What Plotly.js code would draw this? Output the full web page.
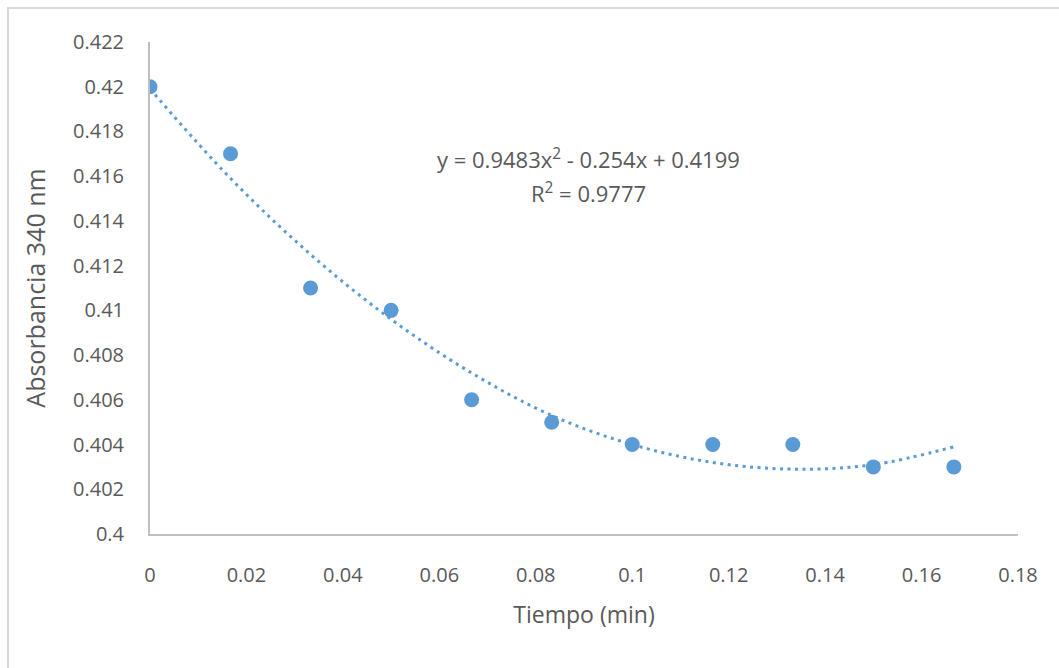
<!DOCTYPE html>
<html>
<head>
<meta charset="utf-8">
<script src="https://cdn.plot.ly/plotly-3.0.1.min.js"></script>
<style>
html,body{margin:0;padding:0;background:#fff;}
#frame{position:absolute;left:7px;top:7px;width:1060px;height:670px;border-left:2px solid #d9d9d9;border-top:2px solid #d9d9d9;box-sizing:border-box;pointer-events:none;z-index:5;}
#chart{position:absolute;left:0;top:0;width:1059px;height:668px;}
</style>
</head>
<body>
<div id="chart"></div>
<div id="frame"></div>
<script>
// Data
var tiempo = [0, 0.0167, 0.0333, 0.05, 0.0667, 0.0833, 0.1, 0.1167, 0.1333, 0.15, 0.1667];
var absorbancia = [0.420, 0.417, 0.411, 0.410, 0.406, 0.405, 0.404, 0.404, 0.404, 0.403, 0.403];
// Dotted trendline values
var trendX = [0, 0.0167, 0.0333, 0.05, 0.0667, 0.0833, 0.1, 0.1167, 0.1333, 0.15, 0.1667];
var trendY = [0.4199, 0.4159, 0.4125, 0.4096, 0.4072, 0.4053, 0.4040, 0.4032, 0.4029, 0.4031, 0.4039];
var xTicks = [0, 0.02, 0.04, 0.06, 0.08, 0.1, 0.12, 0.14, 0.16, 0.18];
var xTickText = ['0', '0.02', '0.04', '0.06', '0.08', '0.1', '0.12', '0.14', '0.16', '0.18'];
var yTicks = [0.4, 0.402, 0.404, 0.406, 0.408, 0.41, 0.412, 0.414, 0.416, 0.418, 0.42, 0.422];
var yTickText = ['0.4', '0.402', '0.404', '0.406', '0.408', '0.41', '0.412', '0.414', '0.416', '0.418', '0.42', '0.422'];
var eqLine1 = 'y = 0.9483x<sup>2</sup> - 0.254x + 0.4199';
var eqLine2 = 'R<sup>2</sup> = 0.9777';

var blue = '#5b9bd5';
var font = 'Open Sans, Lato, sans-serif';
var grey = '#595959';

var traces = [
  {
    x: trendX, y: trendY, type: 'scatter', mode: 'lines',
    line: {color: blue, width: 3, dash: '3px,4.5px', shape: 'spline'},
    hoverinfo: 'skip', showlegend: false
  },
  {
    x: tiempo, y: absorbancia, type: 'scatter', mode: 'markers',
    marker: {color: blue, size: 15},
    showlegend: false
  }
];

var layout = {
  width: 1059, height: 668,
  margin: {l: 150, r: 41, t: 42, b: 134},
  paper_bgcolor: '#ffffff', plot_bgcolor: '#ffffff',
  showlegend: false,
  font: {family: font, color: grey, size: 20},
  xaxis: {
    range: [0, 0.18], tickvals: xTicks, ticktext: xTickText,
    showgrid: false, zeroline: false, showline: true,
    linecolor: '#bfbfbf', linewidth: 2, ticks: '',
    ticklabelstandoff: 22,
    tickfont: {family: font, size: 20, color: grey},
    title: {text: 'Tiempo (min)', font: {family: font, size: 23, color: grey}, standoff: 20}
  },
  yaxis: {
    range: [0.4, 0.422], tickvals: yTicks, ticktext: yTickText,
    showgrid: false, zeroline: false, showline: true,
    linecolor: '#bfbfbf', linewidth: 2, ticks: '',
    ticklabelstandoff: 20,
    tickfont: {family: font, size: 20, color: grey},
    title: {text: 'Absorbancia 340 nm', font: {family: font, size: 25, color: grey}, standoff: 20}
  },
  annotations: [
    {xref: 'paper', yref: 'paper', x: 0.505, y: 0.763, xanchor: 'center', yanchor: 'middle',
     text: eqLine1, showarrow: false, font: {family: font, size: 22, color: grey}},
    {xref: 'paper', yref: 'paper', x: 0.505, y: 0.694, xanchor: 'center', yanchor: 'middle',
     text: eqLine2, showarrow: false, font: {family: font, size: 22, color: grey}}
  ]
};

Plotly.newPlot('chart', traces, layout, {displayModeBar: false, staticPlot: true});
</script>
</body>
</html>
